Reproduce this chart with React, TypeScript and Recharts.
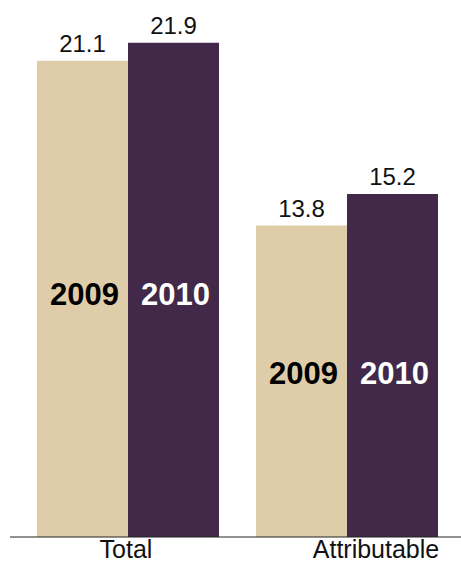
import { BarChart, Bar, XAxis, YAxis, LabelList } from 'recharts';

const categories = ['Total', 'Attributable'];
const values2009 = [21.1, 13.8];
const values2010 = [21.9, 15.2];
const seriesNames = ['2009', '2010'];
// label nudges as seen in the source image
const tickShift = [-2, 29];

const data = categories.map((c, i) => ({
  category: c,
  v2009: values2009[i],
  v2010: values2010[i],
}));

const FONT = "Arial, 'Liberation Sans', sans-serif";

function CategoryTick(props: any) {
  const { x, y, payload, index } = props;
  return (
    <text
      x={x + (tickShift[index] ?? 0)}
      y={y + 13}
      textAnchor="middle"
      fontFamily={FONT}
      fontSize={25}
      fill="#111"
    >
      {payload.value}
    </text>
  );
}

// series name drawn inside the bar, centred on the group's average height
function makeInsideLabel(name: string, color: string) {
  return function InsideLabel(props: any) {
    const { x, y, width, height, value, index } = props;
    if (!value) return null;
    const pxPerUnit = height / value;
    const base = y + height;
    const avg = (values2009[index] + values2010[index]) / 2;
    const mid = base - (avg * pxPerUnit) / 2;
    return (
      <text
        x={x + width / 2 + 2}
        y={mid + 11}
        textAnchor="middle"
        fontFamily={FONT}
        fontSize={31}
        fontWeight="bold"
        fill={color}
      >
        {name}
      </text>
    );
  };
}

export default function App() {
  return (
    <div style={{ position: 'absolute', left: 0, top: 0 }}>
      <BarChart
        width={461}
        height={571}
        data={data}
        margin={{ top: 18, right: 0, left: 10, bottom: 0 }}
        barCategoryGap={18.5}
        barGap={0}
      >
        <XAxis
          dataKey="category"
          tickLine={false}
          axisLine={{ stroke: '#222', strokeWidth: 1 }}
          height={34}
          padding={{ left: 8.5, right: 4.5 }}
          interval={0}
          tick={<CategoryTick />}
        />
        <YAxis hide domain={[0, 23]} />
        <Bar dataKey="v2009" name={seriesNames[0]} fill="#dfcca8" isAnimationActive={false}>
          <LabelList
            dataKey="v2009"
            position="top"
            offset={9}
            fontFamily={FONT}
            fontSize={24}
            fill="#111"
          />
          <LabelList dataKey="v2009" content={makeInsideLabel(seriesNames[0], '#000')} />
        </Bar>
        <Bar dataKey="v2010" name={seriesNames[1]} fill="#42294a" isAnimationActive={false}>
          <LabelList
            dataKey="v2010"
            position="top"
            offset={9}
            fontFamily={FONT}
            fontSize={24}
            fill="#111"
          />
          <LabelList dataKey="v2010" content={makeInsideLabel(seriesNames[1], '#fff')} />
        </Bar>
      </BarChart>
    </div>
  );
}
